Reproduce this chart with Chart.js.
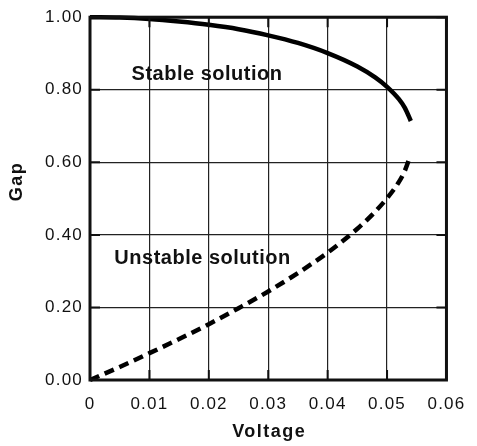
<!DOCTYPE html>
<html>
<head>
<meta charset="utf-8">
<script src="https://cdn.jsdelivr.net/npm/chart.js@4.4.1/dist/chart.umd.min.js"></script>
<style>
  html, body { margin: 0; padding: 0; background: #fff; }
  #wrap { width: 477px; height: 446px; }
</style>
</head>
<body>
<div id="wrap"><canvas id="gapChart" width="477" height="446"></canvas></div>
<script>
// voltage vs gap
const stableVoltage = [0, 0.005, 0.01, 0.015, 0.02, 0.025, 0.03, 0.035, 0.04, 0.045, 0.048, 0.05, 0.052, 0.053, 0.054];
const stableGap = [1.0, 0.999, 0.995, 0.988, 0.979, 0.967, 0.95, 0.929, 0.901, 0.864, 0.834, 0.808, 0.774, 0.75, 0.714];
const unstableVoltage = [0, 0.005, 0.01, 0.015, 0.02, 0.025, 0.03, 0.035, 0.04, 0.045, 0.048, 0.05, 0.052, 0.053, 0.0537];
const unstableGap = [0, 0.036, 0.074, 0.113, 0.154, 0.198, 0.244, 0.295, 0.351, 0.417, 0.464, 0.501, 0.546, 0.577, 0.608];

const xTicks = [0, 0.01, 0.02, 0.03, 0.04, 0.05, 0.06];
const yTicks = [0, 0.2, 0.4, 0.6, 0.8, 1.0];
const labels = [
  { text: 'Stable solution', x: 0.0070, y: 0.828 },
  { text: 'Unstable solution', x: 0.0041, y: 0.319 }
];

const FONT = "'Liberation Sans', Arial, sans-serif";

function toPoints(xs, ys) {
  return xs.map((x, i) => ({ x: x, y: ys[i] }));
}

// frame, inner ticks and text labels
const framePlugin = {
  id: 'frame',
  beforeDraw(chart) {
    chart.ctx.letterSpacing = '1.2px';
  },
  afterDraw(chart) {
    const ctx = chart.ctx;
    const a = chart.chartArea;
    const xs = chart.scales.x, ys = chart.scales.y;
    ctx.save();
    ctx.strokeStyle = '#111';
    ctx.lineWidth = 2;
    xTicks.forEach(v => {
      const px = xs.getPixelForValue(v);
      ctx.beginPath();
      ctx.moveTo(px, a.bottom); ctx.lineTo(px, a.bottom - 10);
      ctx.moveTo(px, a.top); ctx.lineTo(px, a.top + 10);
      ctx.stroke();
    });
    yTicks.forEach(v => {
      const py = ys.getPixelForValue(v);
      ctx.beginPath();
      ctx.moveTo(a.left, py); ctx.lineTo(a.left + 10, py);
      ctx.moveTo(a.right, py); ctx.lineTo(a.right - 10, py);
      ctx.stroke();
    });
    ctx.lineWidth = 3;
    ctx.strokeRect(a.left, a.top, a.right - a.left, a.bottom - a.top);

    ctx.fillStyle = '#111';
    ctx.letterSpacing = '0.5px';
    ctx.font = 'bold 20px ' + FONT;
    ctx.textAlign = 'left';
    ctx.textBaseline = 'alphabetic';
    labels.forEach(l => {
      ctx.fillText(l.text, xs.getPixelForValue(l.x), ys.getPixelForValue(l.y));
    });

    // axis titles
    ctx.letterSpacing = '1.5px';
    ctx.font = 'bold 18px ' + FONT;
    ctx.textAlign = 'center';
    ctx.textBaseline = 'middle';
    ctx.fillText('Voltage', (a.left + a.right) / 2 + 1, 432);
    ctx.translate(17, (a.top + a.bottom) / 2 - 17);
    ctx.rotate(-Math.PI / 2);
    ctx.fillText('Gap', 0, 0);
    ctx.restore();
  }
};

const ctx = document.getElementById('gapChart').getContext('2d');
const gapChart = new Chart(ctx, {
  type: 'scatter',
  data: {
    datasets: [
      {
        label: 'Stable solution',
        data: toPoints(stableVoltage, stableGap),
        showLine: true,
        borderColor: '#000',
        borderWidth: 4.5,
        pointRadius: 0,
        cubicInterpolationMode: 'monotone'
      },
      {
        label: 'Unstable solution',
        data: toPoints(unstableVoltage, unstableGap),
        showLine: true,
        borderColor: '#000',
        borderWidth: 4.5,
        borderDash: [10, 6],
        pointRadius: 0,
        cubicInterpolationMode: 'monotone'
      }
    ]
  },
  options: {
    responsive: false,
    animation: false,
    clip: false,
    layout: { padding: { top: 13, right: 18, left: 0, bottom: 0 } },
    plugins: {
      legend: { display: false },
      tooltip: { enabled: false }
    },
    scales: {
      x: {
        type: 'linear',
        min: 0,
        max: 0.06,
        afterFit: s => { s.height = 66; },
        afterBuildTicks: s => { s.ticks = xTicks.map(v => ({ value: v })); },
        grid: { color: '#222', lineWidth: 1.2, drawTicks: false },
        border: { display: false },
        ticks: {
          padding: 14,
          color: '#111',
          font: { family: FONT, size: 17 },
          callback: v => v === 0 ? '0' : v.toFixed(2)
        }
      },
      y: {
        min: 0,
        max: 1,
        afterFit: s => { s.width = 90; },
        afterBuildTicks: s => { s.ticks = yTicks.map(v => ({ value: v })); },
        grid: { color: '#222', lineWidth: 1.2, drawTicks: false },
        border: { display: false },
        ticks: {
          padding: 7,
          color: '#111',
          font: { family: FONT, size: 17 },
          callback: v => v.toFixed(2)
        }
      }
    }
  },
  plugins: [framePlugin]
});
</script>
</body>
</html>
